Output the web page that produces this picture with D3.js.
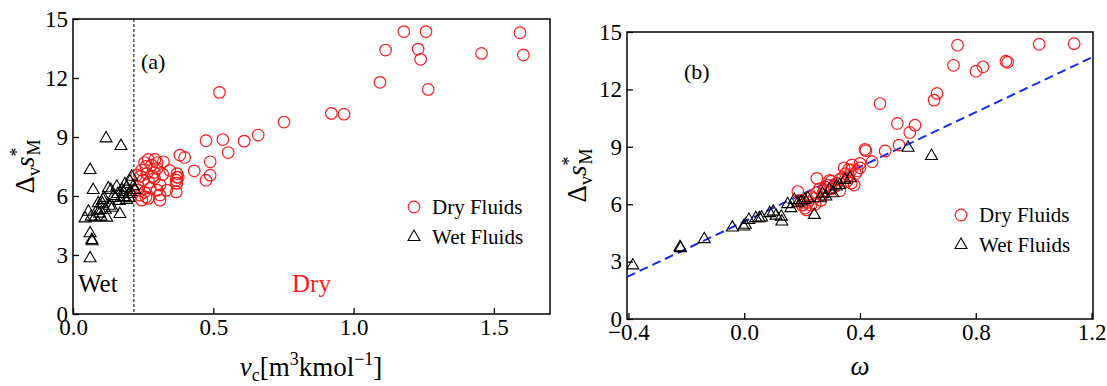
<!DOCTYPE html>
<html>
<head>
<meta charset="utf-8">
<script src="https://cdn.jsdelivr.net/npm/d3@7"></script>
<style>
  body { margin: 0; background: #fff; }
  svg, svg text, svg tspan { font-family: "Liberation Serif", "Times New Roman", Times, "DejaVu Serif", serif !important; }
</style>
</head>
<body>
<svg id="chart" width="1107" height="386"></svg>
<script>
// panel (a): entropy vs critical volume
const dryVc = [1.179, 1.258, 1.593, 1.114, 1.230, 1.239, 1.456, 1.605, 1.094, 1.266,
  0.522, 0.921, 0.966, 0.752, 0.660, 0.610, 0.474, 0.534, 0.553, 0.489,
  0.381, 0.398, 0.432, 0.474, 0.489, 0.371, 0.368, 0.368, 0.375, 0.369,
  0.268, 0.292, 0.322, 0.280, 0.300, 0.245, 0.263, 0.290, 0.227, 0.250,
  0.270, 0.310, 0.233, 0.255, 0.239, 0.268, 0.310, 0.310, 0.245, 0.334,
  0.230, 0.260, 0.285, 0.300, 0.240, 0.275, 0.320, 0.290, 0.260, 0.345,
  0.255, 0.300, 0.370, 0.370];
const dryVcS = [14.36, 14.36, 14.30, 13.42, 13.47, 12.95, 13.25, 13.17, 11.78, 11.42,
  11.27, 10.20, 10.16, 9.76, 9.10, 8.79, 8.81, 8.87, 8.21, 7.74,
  8.08, 7.96, 7.28, 6.80, 7.06, 7.14, 6.80, 6.21, 6.95, 6.65,
  7.86, 7.86, 7.74, 7.57, 7.40, 7.32, 7.15, 7.20, 7.07, 6.81,
  6.70, 6.56, 6.47, 6.20, 6.05, 5.88, 6.05, 5.79, 5.79, 6.30,
  6.30, 7.50, 7.00, 7.70, 7.00, 6.40, 7.10, 6.90, 5.95, 7.30,
  7.70, 6.30, 6.65, 6.95];
const wetVc = [0.118, 0.171, 0.061, 0.072, 0.043, 0.061, 0.067, 0.068, 0.061, 0.167,
  0.096, 0.090, 0.107, 0.126, 0.135, 0.156, 0.179, 0.191, 0.203, 0.209,
  0.215, 0.205, 0.078, 0.100, 0.120, 0.130, 0.115, 0.055, 0.085, 0.065,
  0.105, 0.150, 0.165, 0.180, 0.190, 0.200, 0.140, 0.145, 0.160, 0.175,
  0.095, 0.110, 0.200, 0.185, 0.220];
const wetVcS = [8.93, 8.54, 7.32, 6.30, 4.86, 4.10, 3.76, 3.70, 2.83, 5.08,
  5.29, 5.63, 5.80, 6.39, 6.30, 6.47, 6.20, 5.80, 6.73, 6.98,
  6.50, 6.20, 4.90, 4.95, 4.90, 5.50, 5.30, 5.20, 5.25, 4.95,
  5.60, 5.90, 5.75, 5.95, 6.40, 6.10, 5.40, 6.00, 6.10, 6.30,
  5.10, 5.90, 5.90, 6.60, 6.30];
const vcTicks = [0, 0.5, 1.0, 1.5];
const wetDryBoundary = 0.217;

// panel (b): entropy vs acentric factor
const dryOmega = [1.019, 1.140, 0.737, 0.723, 0.801, 0.825, 0.904, 0.910, 0.656, 0.666,
  0.469, 0.529, 0.590, 0.572, 0.535, 0.487, 0.417, 0.420, 0.442, 0.400,
  0.372, 0.370, 0.251, 0.185, 0.190, 0.200, 0.210, 0.220, 0.230, 0.240,
  0.250, 0.260, 0.270, 0.280, 0.290, 0.300, 0.310, 0.320, 0.330, 0.340,
  0.350, 0.360, 0.370, 0.380, 0.385, 0.355, 0.300, 0.265, 0.215, 0.205,
  0.230, 0.345, 0.390, 0.275, 0.295, 0.330, 0.245, 0.360, 0.400];
const dryOmegaS = [14.36, 14.39, 14.31, 13.26, 12.95, 13.18, 13.47, 13.42, 11.44, 11.79,
  11.26, 10.22, 10.13, 9.75, 9.09, 8.78, 8.87, 8.80, 8.22, 8.13,
  8.05, 7.79, 7.35, 6.66, 6.20, 5.95, 5.80, 6.10, 6.40, 6.30,
  6.60, 6.80, 6.50, 6.90, 7.00, 7.20, 6.90, 7.10, 7.30, 7.40,
  7.60, 7.80, 7.10, 7.00, 7.60, 7.20, 6.80, 6.20, 5.70, 6.10,
  5.95, 7.90, 7.75, 6.70, 7.25, 6.70, 6.00, 7.50, 7.90];
const wetOmega = [-0.385, -0.222, -0.220, -0.138, -0.041, -0.002, 0.004, 0.016, 0.040, 0.052,
  0.088, 0.100, 0.130, 0.128, 0.161, 0.173, 0.197, 0.209, 0.242, 0.263,
  0.282, 0.306, 0.318, 0.348, 0.366, 0.566, 0.647, 0.150, 0.185, 0.220,
  0.270, 0.295, 0.330, 0.110, 0.060];
const wetOmegaS = [2.80, 3.75, 3.70, 4.17, 4.78, 4.83, 4.92, 5.18, 5.27, 5.27,
  5.53, 5.61, 5.09, 5.35, 5.79, 6.22, 6.14, 6.22, 5.44, 6.31,
  6.40, 6.57, 6.92, 7.27, 7.35, 8.95, 8.52, 6.00, 6.05, 6.30,
  6.55, 6.75, 7.00, 5.40, 5.30];
const omegaTicks = [-0.4, 0.0, 0.4, 0.8, 1.2];
const fitOmega = [-0.405, 1.205];
const fitS = [2.2, 13.7];

const sTicks = [0, 3, 6, 9, 12, 15];

const svg = d3.select('#chart');
const red = '#ff1a1a';

function panel(opts) {
  const x = d3.scaleLinear().domain(opts.xDomain).range([opts.left, opts.right]);
  const y = d3.scaleLinear().domain([0, 15]).range([opts.bottom, opts.top]);
  const g = svg.append('g');

  g.append('g')
    .attr('transform', 'translate(0,' + opts.bottom + ')')
    .call(d3.axisBottom(x).tickValues(opts.xTicks).tickFormat(d3.format('.1f'))
      .tickSizeInner(-6).tickSizeOuter(0).tickPadding(5))
    .attr('font-family', null).attr('font-size', 23)
    .call(a => a.select('.domain').remove())
    .call(a => a.selectAll('text').attr('fill', '#000'))
    .call(a => a.selectAll('line').attr('stroke', '#000').attr('stroke-width', 1.3));

  g.append('g')
    .attr('transform', 'translate(' + opts.left + ',0)')
    .call(d3.axisLeft(y).tickValues(sTicks).tickSizeInner(-6).tickSizeOuter(0).tickPadding(5))
    .attr('font-family', null).attr('font-size', 23)
    .call(a => a.select('.domain').remove())
    .call(a => a.selectAll('text').attr('fill', '#000'))
    .call(a => a.selectAll('line').attr('stroke', '#000').attr('stroke-width', 1.3));

  g.append('rect')
    .attr('x', opts.left).attr('y', opts.top)
    .attr('width', opts.right - opts.left).attr('height', opts.bottom - opts.top)
    .attr('fill', 'none').attr('stroke', '#000').attr('stroke-width', 1.5);

  // y title
  const yt = g.append('text')
    .attr('transform', 'translate(' + opts.yTitleX + ',' + (opts.top + opts.bottom) / 2 + ') rotate(-90)')
    .attr('text-anchor', 'middle').attr('font-size', 27);
  yt.append('tspan').text('Δ');
  yt.append('tspan').attr('font-size', 18).attr('dy', 6).text('v');
  yt.append('tspan').attr('font-style', 'italic').attr('dy', -6).text('s');
  yt.append('tspan').attr('font-size', 18).attr('dy', -11).text('*');
  yt.append('tspan').attr('font-size', 18).attr('dx', -8).attr('dy', 17).text('M');

  return { g, x, y };
}

function drawPoints(p, xs, ys, wx, wy) {
  p.g.append('g').selectAll('circle')
    .data(d3.range(xs.length))
    .join('circle')
    .attr('cx', i => p.x(xs[i])).attr('cy', i => p.y(ys[i]))
    .attr('r', 5.8).attr('fill', 'none').attr('stroke', red).attr('stroke-width', 1.2);
  const tri = d3.symbol(d3.symbolTriangle, 62);
  p.g.append('g').selectAll('path')
    .data(d3.range(wx.length))
    .join('path')
    .attr('d', tri)
    .attr('transform', i => 'translate(' + p.x(wx[i]) + ',' + p.y(wy[i]) + ')')
    .attr('fill', 'none').attr('stroke', '#000').attr('stroke-width', 1.1);
}

function legend(p, lx, ly) {
  const lg = p.g.append('g');
  lg.append('circle').attr('cx', lx).attr('cy', ly).attr('r', 5.8)
    .attr('fill', 'none').attr('stroke', red).attr('stroke-width', 1.2);
  lg.append('text').attr('x', lx + 18).attr('y', ly + 7).attr('font-size', 21).text('Dry Fluids');
  lg.append('path').attr('d', d3.symbol(d3.symbolTriangle, 62))
    .attr('transform', 'translate(' + lx + ',' + (ly + 30) + ')')
    .attr('fill', 'none').attr('stroke', '#000').attr('stroke-width', 1.1);
  lg.append('text').attr('x', lx + 18).attr('y', ly + 37).attr('font-size', 21).text('Wet Fluids');
}

// ---- panel (a)
const pa = panel({ left: 73, right: 550, top: 19, bottom: 314,
  xDomain: [0, 1.7], xTicks: vcTicks, yTitleX: 34 });
pa.g.append('line')
  .attr('x1', pa.x(wetDryBoundary)).attr('x2', pa.x(wetDryBoundary))
  .attr('y1', pa.y(15)).attr('y2', pa.y(0))
  .attr('stroke', '#000').attr('stroke-width', 1).attr('stroke-dasharray', '3,2');
drawPoints(pa, dryVc, dryVcS, wetVc, wetVcS);
legend(pa, 414, 207);
pa.g.append('text').attr('x', 141).attr('y', 69).attr('font-size', 22).text('(a)');
pa.g.append('text').attr('x', 78).attr('y', 292).attr('font-size', 25).text('Wet');
pa.g.append('text').attr('x', 292).attr('y', 292).attr('font-size', 25).attr('fill', red).text('Dry');
const xa = pa.g.append('text').attr('x', 311).attr('y', 376)
  .attr('text-anchor', 'middle').attr('font-size', 27);
xa.append('tspan').attr('font-style', 'italic').text('v');
xa.append('tspan').attr('font-size', 18).attr('dy', 5).text('c');
xa.append('tspan').attr('dy', -5).text('[m');
xa.append('tspan').attr('font-size', 18).attr('dy', -11).text('3');
xa.append('tspan').attr('dy', 11).text('kmol');
xa.append('tspan').attr('font-size', 18).attr('dy', -11).text('−1');
xa.append('tspan').attr('dy', 11).text(']');

// ---- panel (b)
const pb = panel({ left: 627, right: 1093, top: 32, bottom: 319,
  xDomain: [-0.405, 1.205], xTicks: omegaTicks, yTitleX: 586 });
pb.g.append('line')
  .attr('x1', pb.x(fitOmega[0])).attr('y1', pb.y(fitS[0]))
  .attr('x2', pb.x(fitOmega[1])).attr('y2', pb.y(fitS[1]))
  .attr('stroke', '#1030e8').attr('stroke-width', 2).attr('stroke-dasharray', '9,5');
drawPoints(pb, dryOmega, dryOmegaS, wetOmega, wetOmegaS);
legend(pb, 961, 215);
pb.g.append('text').attr('x', 684).attr('y', 79).attr('font-size', 22).text('(b)');
pb.g.append('text').attr('x', 860).attr('y', 375)
  .attr('text-anchor', 'middle').attr('font-size', 27).attr('font-style', 'italic').text('ω');
</script>
</body>
</html>
